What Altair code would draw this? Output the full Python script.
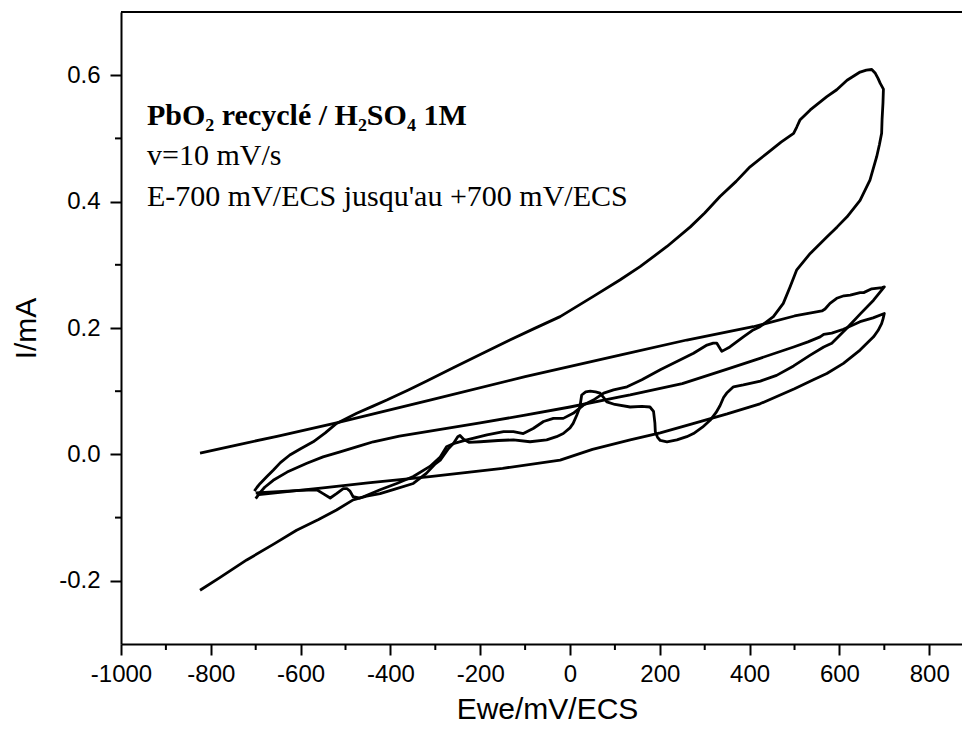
import altair as alt
import pandas as pd

# ---------------- data ----------------
# Cycle A: scan from -825 mV up to +700 mV and back to -825 mV
cycA_E = [-824, -780, -720, -660, -609, -560, -520, -483, -453, -423, -390, -349, -320, -300,
          -289, -272, -260, -250, -245, -237, -225, -200, -160, -126, -89, -52, -30, -15, 0,
          7, 15, 22, 26, 35, 45, 57, 67, 75, 82, 100, 134, 160, 178, 186, 189, 190, 195, 201,
          216, 238, 260, 275, 295, 312, 325, 334, 342, 349, 364, 386, 424, 460, 498, 535, 565,
          583, 617, 646, 676, 700,
          695, 672, 654, 646, 624, 610, 594, 579, 568, 561, 500, 408, 260, 111, -100, -312,
          -520, -650, -735, -824]
cycA_I = [-0.215, -0.195, -0.167, -0.142, -0.120, -0.103, -0.088, -0.072, -0.066, -0.062,
          -0.055, -0.046, -0.030, -0.015, -0.009, 0.008, 0.017, 0.028, 0.030, 0.024, 0.019,
          0.020, 0.022, 0.023, 0.020, 0.023, 0.028, 0.033, 0.042, 0.049, 0.062, 0.075, 0.094,
          0.099, 0.100, 0.099, 0.097, 0.090, 0.083, 0.079, 0.075, 0.076, 0.075, 0.068, 0.050,
          0.036, 0.027, 0.022, 0.020, 0.023, 0.028, 0.033, 0.043, 0.054, 0.066, 0.077, 0.090,
          0.097, 0.107, 0.110, 0.116, 0.125, 0.140, 0.157, 0.170, 0.176, 0.200, 0.222, 0.244,
          0.265,
          0.264, 0.262, 0.256, 0.256, 0.252, 0.251, 0.247, 0.239, 0.230, 0.227, 0.219, 0.202,
          0.181, 0.157, 0.123, 0.086, 0.050, 0.029, 0.016, 0.002]

# Cycle B: large loop between -700 mV and +700 mV
cycB_E = [-703, -697, -690, -675, -661, -645, -624, -600, -572, -545, -520, -475, -440, -408,
          -360, -319, -260, -200, -134, -80, -22, 52, 111, 156, 216, 268, 300, 334, 370, 401,
          438, 470, 498, 505, 512, 535, 572, 594, 617, 646, 660, 672, 680, 686, 691, 698,
          697, 695, 694, 689, 683, 668, 646, 617, 595, 572, 535, 505, 490, 475, 453, 423, 408,
          386, 356, 338, 327, 319, 305, 275, 201, 160, 127, 97, 75, 52, 30, 7, -15, -37, -59,
          -82, -104, -126, -148, -185, -230, -260, -275, -289, -312, -349, -386, -423, -460,
          -468, -483, -490, -497, -505, -520, -534, -550, -564, -600, -650, -700]
cycB_I = [-0.058, -0.052, -0.046, -0.035, -0.025, -0.013, -0.001, 0.009, 0.020, 0.034, 0.049,
          0.065, 0.076, 0.086, 0.102, 0.116, 0.137, 0.158, 0.181, 0.199, 0.218, 0.250, 0.276,
          0.297, 0.329, 0.360, 0.382, 0.408, 0.432, 0.455, 0.476, 0.494, 0.508, 0.518, 0.529,
          0.545, 0.566, 0.577, 0.592, 0.605, 0.608, 0.609, 0.603, 0.595, 0.587, 0.578,
          0.556, 0.530, 0.508, 0.490, 0.471, 0.434, 0.402, 0.376, 0.360, 0.344, 0.318, 0.292,
          0.265, 0.239, 0.218, 0.202, 0.197, 0.186, 0.170, 0.163, 0.176, 0.176, 0.173, 0.160,
          0.134, 0.118, 0.107, 0.102, 0.097, 0.086, 0.078, 0.065, 0.057, 0.057, 0.052, 0.041,
          0.033, 0.036, 0.036, 0.031, 0.023, 0.017, 0.012, -0.004, -0.019, -0.035, -0.046,
          -0.056, -0.067, -0.069, -0.067, -0.058, -0.054, -0.054, -0.062, -0.069, -0.062,
          -0.056, -0.057, -0.059, -0.061]

# Cycle C: thin loop between -700 mV and +700 mV
cycC_E = [-700, -690, -680, -661, -630, -586, -550, -512, -470, -438, -380, -312, -200, -100,
          0, 111, 134, 250, 350, 423, 498, 530, 557, 565, 583, 609, 646, 675, 700,
          697, 694, 686, 676, 646, 609, 572, 542, 500, 423, 350, 270, 201, 134, 50, -22,
          -150, -312, -450, -550, -620, -698]
cycC_I = [-0.070, -0.060, -0.052, -0.041, -0.028, -0.014, -0.004, 0.004, 0.013, 0.020, 0.029,
          0.037, 0.050, 0.062, 0.075, 0.091, 0.094, 0.112, 0.135, 0.152, 0.170, 0.178, 0.186,
          0.190, 0.192, 0.198, 0.210, 0.216, 0.223,
          0.214, 0.207, 0.196, 0.186, 0.165, 0.144, 0.128, 0.118, 0.104, 0.080, 0.064, 0.048,
          0.034, 0.023, 0.008, -0.009, -0.022, -0.035, -0.045, -0.053, -0.058, -0.064]

x_major = [-1000, -800, -600, -400, -200, 0, 200, 400, 600, 800]
x_minor = [-900, -700, -500, -300, -100, 100, 300, 500, 700]
y_major = [-0.2, 0.0, 0.2, 0.4, 0.6]
y_minor = [-0.1, 0.1, 0.3, 0.5]

note_lines = ["PbO₂ recyclé / H₂SO₄ 1M", "v=10 mV/s", "E-700 mV/ECS jusqu'au +700 mV/ECS"]
x_title = "Ewe/mV/ECS"
y_title = "I/mA"

# ---------------- build tables ----------------
rows = []
for name, E, I in [("A", cycA_E, cycA_I), ("B", cycB_E, cycB_I), ("C", cycC_E, cycC_I)]:
    for k, (e, i) in enumerate(zip(E, I)):
        rows.append({"curve": name, "order": k, "E": e, "I": i})
df = pd.DataFrame(rows)

W, H = 841, 632
xs = alt.Scale(domain=[-1000, 873], nice=False, zero=False)
ys = alt.Scale(domain=[-0.3, 0.7], nice=False, zero=False)

MINUS = "\u2212"

curves = alt.Chart(df).mark_line(color="black", strokeWidth=2.8, clip=True,
                                 strokeJoin="round").encode(
    x=alt.X("E:Q", scale=xs,
            axis=alt.Axis(values=x_major, title=x_title, labelExpr="'' + datum.value",
                          labelFlush=False, labelPadding=7, titlePadding=8, titleX=426)),
    y=alt.Y("I:Q", scale=ys,
            axis=alt.Axis(values=y_major, title=y_title,
                          labelExpr=f"replace(format(datum.value, '.1f'), '{MINUS}', '-')",
                          labelPadding=10, titlePadding=17)),
    detail="curve:N",
    order="order:Q",
)

xminor = alt.Chart(pd.DataFrame({"v": x_minor})).mark_rule(color="black", strokeWidth=2).encode(
    x=alt.X("v:Q", scale=xs), y=alt.value(H), y2=alt.value(H + 6))
yminor = alt.Chart(pd.DataFrame({"v": y_minor})).mark_rule(color="black", strokeWidth=2).encode(
    y=alt.Y("v:Q", scale=ys), x=alt.value(0), x2=alt.value(-6))

top_border = alt.Chart(pd.DataFrame({"a": [0]})).mark_rule(color="black", strokeWidth=2).encode(
    x=alt.value(0), x2=alt.value(W), y=alt.value(0))

notes_df = pd.DataFrame({"t": note_lines, "k": [0, 1, 2]})
note_bold = alt.Chart(notes_df[notes_df.k == 0]).mark_text(
    align="left", baseline="alphabetic", font="Liberation Serif", fontSize=30,
    fontWeight="bold", color="black").encode(text="t:N", x=alt.value(26), y=alt.value(113))
note_2 = alt.Chart(notes_df[notes_df.k == 1]).mark_text(
    align="left", baseline="alphabetic", font="Liberation Serif", fontSize=30,
    color="black").encode(text="t:N", x=alt.value(26), y=alt.value(153))
note_3 = alt.Chart(notes_df[notes_df.k == 2]).mark_text(
    align="left", baseline="alphabetic", font="Liberation Serif", fontSize=30,
    color="black").encode(text="t:N", x=alt.value(26), y=alt.value(194))

chart = alt.layer(curves, xminor, yminor, top_border, note_bold, note_2, note_3).properties(
    width=W, height=H,
    padding={"left": 121, "top": 12, "right": 0, "bottom": 92},
    autosize=alt.AutoSizeParams(type="none"),
).configure_view(stroke=None).configure_axis(
    grid=False, domainColor="black", domainWidth=2, tickColor="black", tickWidth=2,
    tickSize=11, labelFont="Liberation Sans", labelFontSize=24, labelColor="black",
    titleFont="Liberation Sans", titleFontSize=30, titleFontWeight="normal",
    titleColor="black",
)

chart.save("out.html", embed_options={"renderer": "svg", "actions": False})
